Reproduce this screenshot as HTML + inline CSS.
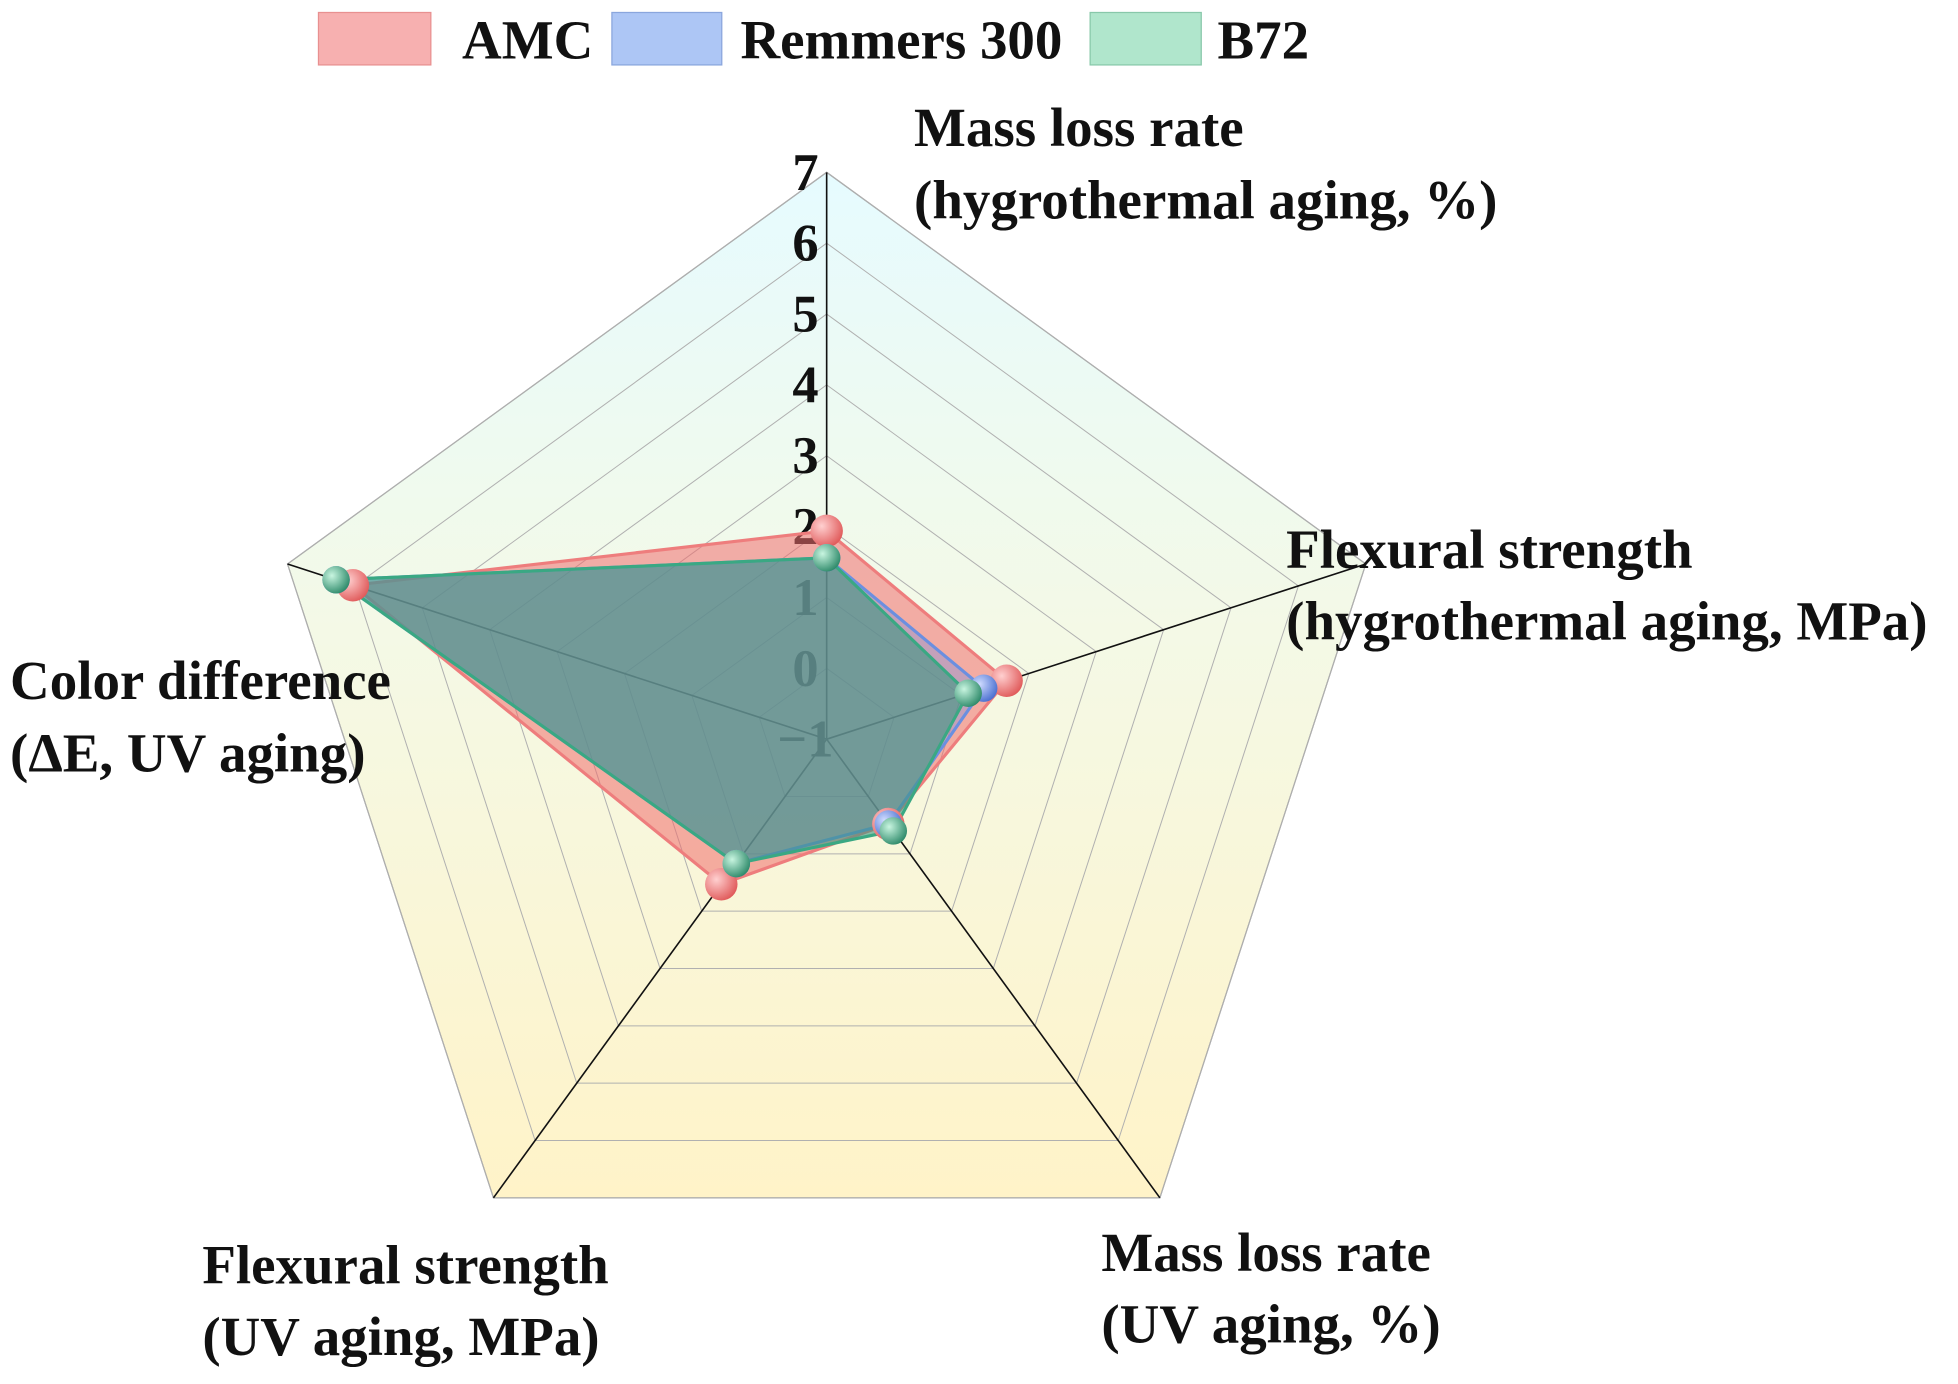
<!DOCTYPE html>
<html><head><meta charset="utf-8"><style>
html,body{margin:0;padding:0;background:#fff;}
svg{display:block;}
text{font-family:"Liberation Serif",serif;font-weight:bold;fill:#111;}
</style></head><body>
<svg id="chart" width="1958" height="1384" viewBox="0 0 1568 1108.4" xmlns="http://www.w3.org/2000/svg">
<defs>
<linearGradient id="bg" x1="0" y1="0" x2="0" y2="1">
<stop offset="0" stop-color="#e6fbff"/><stop offset="0.45" stop-color="#f4f9e6"/><stop offset="1" stop-color="#fff3c8"/>
</linearGradient>
<radialGradient id="sphR" cx="0.35" cy="0.35" r="0.7"><stop offset="0" stop-color="#ffd0d0"/><stop offset="1" stop-color="#e05a5a"/></radialGradient>
<radialGradient id="sphB" cx="0.35" cy="0.35" r="0.7"><stop offset="0" stop-color="#d0dcff"/><stop offset="1" stop-color="#4a6fd0"/></radialGradient>
<radialGradient id="sphG" cx="0.35" cy="0.35" r="0.7"><stop offset="0" stop-color="#c8f5e0"/><stop offset="1" stop-color="#2e8a6a"/></radialGradient>
</defs>
<g id="grid"></g>
<g id="ticks"></g>
<g id="series"></g>
<g id="labels">
<text x="732" y="117" font-size="44">Mass loss rate</text>
<text x="732" y="175" font-size="44">(hygrothermal aging, %)</text>
<text x="1030" y="455" font-size="44">Flexural strength</text>
<text x="1030" y="512" font-size="44">(hygrothermal aging, MPa)</text>
<text x="8" y="560" font-size="44">Color difference</text>
<text x="8" y="618" font-size="44">(ΔE, UV aging)</text>
<text x="162" y="1028" font-size="44">Flexural strength</text>
<text x="162" y="1085" font-size="44">(UV aging, MPa)</text>
<text x="882" y="1018" font-size="44">Mass loss rate</text>
<text x="882" y="1075" font-size="44">(UV aging, %)</text>
</g>
<g id="legend">
<rect x="255" y="10" width="90" height="42" fill="#f7b0b0" stroke="#e89090"/>
<text x="370" y="47" font-size="44">AMC</text>
<rect x="490" y="10" width="88" height="42" fill="#adc6f5" stroke="#8aa6dd"/>
<text x="593" y="47" font-size="44">Remmers 300</text>
<rect x="873" y="10" width="89" height="42" fill="#b0e6cc" stroke="#88c8aa"/>
<text x="975" y="47" font-size="44">B72</text>
</g>
</svg>
<script>
const categories = ["Mass loss rate (hygrothermal)", "Flexural strength (hygrothermal)", "Mass loss rate (UV)", "Flexural strength (UV)", "Color difference (UV)"];
const tickLabels = [-1, 0, 1, 2, 3, 4, 5, 6, 7];
const amcValues = [1.94, 1.67, 0.48, 1.53, 6.03];
const remmersValues = [1.56, 1.33, 0.48, 1.17, 6.28];
const b72Values = [1.56, 1.10, 0.60, 1.17, 6.28];
const seriesNames = ["AMC", "Remmers 300", "B72"];

const NS = "http://www.w3.org/2000/svg";
const cx = 662, cy = 592, R = 454, vMin = -1, vMax = 7;
function rScale(v){ return (v - vMin) / (vMax - vMin) * R; }
function pt(i, v){ const a = -Math.PI/2 + i*2*Math.PI/categories.length; const r = rScale(v); return [cx + r*Math.cos(a), cy + r*Math.sin(a)]; }
function mk(tag, attrs, parent){ const e = document.createElementNS(NS, tag); for (const k in attrs) e.setAttribute(k, attrs[k]); parent.appendChild(e); return e; }

const grid = document.getElementById("grid");
const outer = categories.map((c,i)=>pt(i, vMax).join(",")).join(" ");
const bgp = mk("polygon", {points: outer, fill: "url(#bg)", stroke: "#999", "stroke-width": 1}, grid);


tickLabels.forEach(t => {
  if (t === vMin) return;
  const ring = mk("polygon", {points: categories.map((c,i)=>pt(i,t).join(",")).join(" "), fill: "none", stroke: "#b0b0b0", "stroke-width": 0.8}, grid);
  
  
});
categories.forEach((c,i) => {
  const p = pt(i, vMax);
  const ax = mk("line", {x1: cx, y1: cy, x2: p[0], y2: p[1], stroke: "#111", "stroke-width": 1.3}, grid);
  
  
});
const ticks = document.getElementById("ticks");
tickLabels.forEach(t => {
  const y = cy - rScale(t);
  const tx = mk("text", {x: 645, y: y + 14, "font-size": 42, "text-anchor": "middle"}, ticks);
  tx.textContent = t < 0 ? "\u2212" + Math.abs(t) : String(t);
  
  
});

const series = document.getElementById("series");
const styles = [
  {vals: amcValues, fill: "rgba(240,110,110,0.55)", stroke: "#ee7d7d", sph: "url(#sphR)", r: 13},
  {vals: remmersValues, fill: "rgba(110,140,230,0.35)", stroke: "#6b8fe0", sph: "url(#sphB)", r: 11},
  {vals: b72Values, fill: "rgba(60,150,130,0.6)", stroke: "#3aa883", sph: "url(#sphG)", r: 11}
];
styles.forEach((s, si) => {
  const poly = mk("polygon", {points: s.vals.map((v,i)=>pt(i,v).join(",")).join(" "), fill: s.fill, stroke: s.stroke, "stroke-width": 2.5}, series);
  
  
});
styles.forEach((s, si) => {
  s.vals.forEach((v,i) => {
    const p = pt(i, v);
    const c = mk("circle", {cx: p[0], cy: p[1], r: s.r, fill: s.sph}, series);
    
    
  });
});
</script>
</body></html>
